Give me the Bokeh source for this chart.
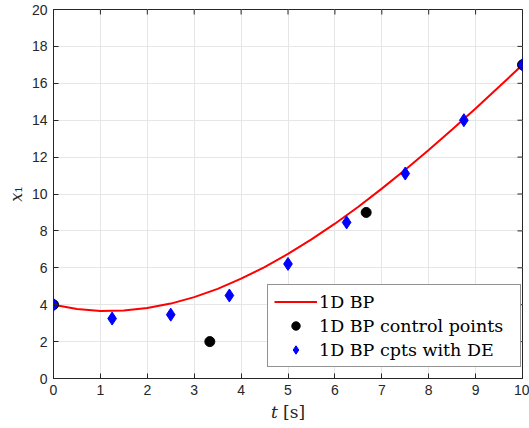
import math
from bokeh.plotting import figure
from bokeh.models import (ColumnDataSource, Legend, LegendItem,
                          FixedTicker, Range1d)
from bokeh.embed import file_html
from bokeh.resources import INLINE

# Red curve: 1D Bernstein polynomial (values read at t = 0, 0.5, ..., 10)
curve_t = [0, 0.5, 1, 1.5, 2, 2.5, 3, 3.5, 4, 4.5, 5, 5.5, 6, 6.5, 7, 7.5, 8, 8.5, 9, 9.5, 10]
curve_x = [4.00, 3.77, 3.66, 3.68, 3.82, 4.06, 4.41, 4.86, 5.41, 6.04, 6.75,
           7.54, 8.39, 9.31, 10.29, 11.31, 12.38, 13.49, 14.64, 15.81, 17.00]

# Black control points
cp_t = [0, 3.333, 6.667, 10]
cp_x = [4, 2, 9, 17]

# Blue: control points with degree elevation
de_t = [0, 1.25, 2.5, 3.75, 5, 6.25, 7.5, 8.75, 10]
de_x = [4, 3.25, 3.46, 4.5, 6.21, 8.46, 11.11, 14, 17]

x_ticks = [0, 1, 2, 3, 4, 5, 6, 7, 8, 9, 10]
y_ticks = [0, 2, 4, 6, 8, 10, 12, 14, 16, 18, 20]

AX = "#262626"
p = figure(width=529, height=428, output_backend="svg", toolbar_location=None,
           x_range=Range1d(0, 10), y_range=Range1d(0, 20),
           min_border_left=53, min_border_right=7, min_border_top=9, min_border_bottom=50)
p.background_fill_color = "white"
p.border_fill_color = "white"
p.outline_line_color = AX
p.outline_line_width = 1

for ax in (p.xaxis[0], p.yaxis[0]):
    ax.major_tick_in = 5
    ax.major_tick_out = 0
    ax.minor_tick_line_color = None
    ax.axis_line_color = AX
    ax.major_tick_line_color = AX
    ax.major_label_text_font = "Liberation Sans"
    ax.major_label_text_font_size = "14px"
    ax.major_label_text_color = AX
    ax.axis_label_text_font = "DejaVu Serif"
    ax.axis_label_text_font_style = "normal"
    ax.axis_label_text_font_size = "17px"
    ax.axis_label_text_color = AX
p.xaxis[0].ticker = FixedTicker(ticks=x_ticks)
p.yaxis[0].ticker = FixedTicker(ticks=y_ticks)
p.xaxis[0].major_label_standoff = 6
p.yaxis[0].major_label_standoff = 6
p.xaxis[0].axis_label = "\U0001D461 [s]"
p.yaxis[0].axis_label = "\U0001D465\u2081"
p.xaxis[0].axis_label_standoff = 4
p.yaxis[0].axis_label_standoff = 3
p.yaxis[0].axis_label_text_font_size = "16px"

p.xgrid.ticker = FixedTicker(ticks=x_ticks)
p.ygrid.ticker = FixedTicker(ticks=y_ticks)
p.xgrid.grid_line_color = "#e6e6e6"
p.ygrid.grid_line_color = "#e6e6e6"

# inward ticks on top and right edges (box on)
p.ray(x=x_ticks, y=20, length=5, angle=-math.pi / 2, length_units="screen",
      line_color=AX, line_width=1)
p.ray(x=10, y=y_ticks, length=5, angle=math.pi, length_units="screen",
      line_color=AX, line_width=1)

src_curve = ColumnDataSource(dict(t=curve_t, x=curve_x))
src_cp = ColumnDataSource(dict(t=cp_t, x=cp_x))
src_de = ColumnDataSource(dict(t=de_t, x=de_x))

r_line = p.line("t", "x", source=src_curve, line_color="#ff0000", line_width=2)
r_cp = p.scatter("t", "x", source=src_cp, marker="circle", size=10,
                 fill_color="black", line_color="black")
r_de = p.scatter("t", "x", source=src_de, marker="diamond", size=13,
                 fill_color="#0000ff", line_color="#0000ff")

legend = Legend(items=[LegendItem(label="1D BP", renderers=[r_line]),
                       LegendItem(label="1D BP control points", renderers=[r_cp]),
                       LegendItem(label="1D BP cpts with DE", renderers=[r_de])],
                location=(214, 11))
legend.label_text_font = "DejaVu Serif"
legend.label_text_font_size = "17.5px"
legend.label_text_color = "black"
legend.glyph_width = 43
legend.glyph_height = 21
legend.label_height = 21
legend.label_width = 195
legend.spacing = 3
legend.padding = 6
legend.margin = 0
legend.border_line_color = AX
legend.background_fill_color = "white"
legend.background_fill_alpha = 1
legend.label_standoff = 2
p.add_layout(legend, "center")

open("out.html", "w").write(file_html(p, INLINE))
